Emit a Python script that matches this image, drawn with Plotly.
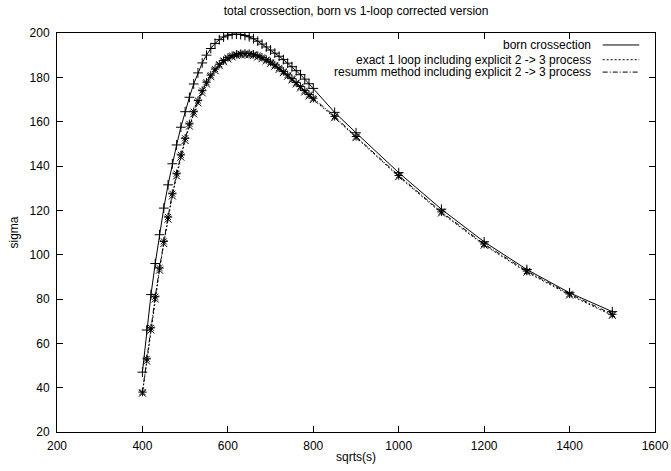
import plotly.graph_objects as go

# ---- data ----
sqrts = [400, 410, 420, 430, 440, 450, 460, 470, 480, 490,
         500, 510, 520, 530, 540, 550, 560, 570, 580, 590,
         600, 610, 620, 630, 640, 650, 660, 670, 680, 690,
         700, 710, 720, 730, 740, 750, 760, 770, 780, 790,
         800, 850, 900, 1000, 1100, 1200, 1300, 1400, 1500]

sigma_born = [47.0, 66.0, 82.0, 96.0, 109.0, 121.0, 131.5, 141.0, 149.5, 157.5,
              164.5, 171.0, 177.0, 182.0, 186.5, 190.0, 193.0, 195.3, 197.0, 198.2,
              199.0, 199.4, 199.5, 199.3, 198.9, 198.3, 197.4, 196.3, 195.0, 193.7,
              192.3, 190.9, 189.5, 188.0, 186.4, 184.8, 183.0, 181.2, 179.2, 177.1,
              175.0, 164.2, 155.0, 137.0, 120.5, 105.8, 93.3, 82.8, 74.3]

sigma_exact = [37.5, 52.0, 66.0, 80.0, 93.0, 105.0, 116.0, 126.5, 135.5, 144.0,
               151.5, 158.0, 163.5, 168.5, 173.0, 177.0, 180.3, 183.0, 185.3, 187.0,
               188.3, 189.2, 189.8, 190.1, 190.2, 190.1, 189.8, 189.2, 188.4, 187.4,
               186.3, 185.0, 183.6, 182.1, 180.5, 178.8, 177.0, 175.2, 173.4, 171.6,
               170.0, 161.8, 152.8, 135.2, 118.8, 104.3, 92.1, 81.8, 72.6]

sigma_resumm = [38.0, 53.0, 67.0, 81.0, 94.0, 106.0, 117.0, 127.5, 136.5, 145.0,
                152.5, 159.0, 164.5, 169.5, 174.0, 177.8, 181.0, 183.7, 185.9, 187.6,
                188.9, 189.8, 190.4, 190.7, 190.8, 190.7, 190.4, 189.8, 189.0, 188.0,
                186.9, 185.6, 184.2, 182.7, 181.1, 179.4, 177.6, 175.8, 174.0, 172.2,
                170.6, 162.4, 153.3, 135.7, 119.3, 104.8, 92.6, 82.3, 73.1]

names = ["born crossection",
         "exact 1 loop including explicit 2 -> 3 process",
         "resumm method including explicit 2 -> 3 process"]

FONT = "Liberation Sans, Arial, sans-serif"

fig = go.Figure()

fig.add_trace(go.Scatter(
    x=sqrts, y=sigma_born, mode="lines+markers", name=names[0],
    line=dict(color="black", width=1, dash="solid"),
    marker=dict(symbol="cross-thin", size=7, color="black",
                line=dict(color="black", width=1)),
    showlegend=False))
fig.add_trace(go.Scatter(
    x=sqrts, y=sigma_exact, mode="lines+markers", name=names[1],
    line=dict(color="black", width=1, dash="2px,2px"),
    marker=dict(symbol="x-thin", size=7, color="black",
                line=dict(color="black", width=1)),
    showlegend=False))
fig.add_trace(go.Scatter(
    x=sqrts, y=sigma_resumm, mode="lines+markers", name=names[2],
    line=dict(color="black", width=1, dash="5px,2px,1px,2px"),
    marker=dict(symbol="asterisk", size=7, color="black",
                line=dict(color="black", width=1)),
    showlegend=False))

# gnuplot-style key: right-aligned text with line sample on the right
dashes = ["solid", "2px,2px", "5px,2px,1px,2px"]
key_y = [0.970, 0.933, 0.902]
for name, dsh, ky in zip(names, dashes, key_y):
    fig.add_annotation(x=0.897, y=ky, xref="paper", yref="paper",
                       text=name, showarrow=False, xanchor="right",
                       yanchor="middle", font=dict(family=FONT, size=12, color="black"))
    fig.add_shape(type="line", xref="paper", yref="paper",
                  x0=0.9125, x1=0.9737, y0=ky, y1=ky,
                  line=dict(color="black", width=1, dash=dsh))

axis_common = dict(showline=True, linecolor="black", linewidth=1, mirror="ticks",
                   ticks="inside", ticklen=6, tickcolor="black", tickwidth=1,
                   showgrid=False, zeroline=False, automargin=False,
                   tickfont=dict(family=FONT, size=12, color="black"))

fig.update_layout(
    width=671, height=471,
    margin=dict(l=57, r=16, t=33, b=39),
    paper_bgcolor="white", plot_bgcolor="white",
    title=dict(text="total crossection, born vs 1-loop corrected version",
               x=0.5306, xanchor="center", y=0.977, yanchor="middle",
               font=dict(family=FONT, size=12, color="black")),
    xaxis=dict(range=[200, 1600], tickvals=list(range(200, 1601, 200)),
               ticklabelstandoff=3,
               title=dict(text="sqrts(s)", standoff=0,
                          font=dict(family=FONT, size=12, color="black")),
               **axis_common),
    yaxis=dict(range=[20, 200], tickvals=list(range(20, 201, 20)),
               ticklabelstandoff=4,
               title=dict(text="sigma", standoff=8,
                          font=dict(family=FONT, size=12, color="black")),
               **axis_common),
    showlegend=False,
)

fig.write_html("out.html")
